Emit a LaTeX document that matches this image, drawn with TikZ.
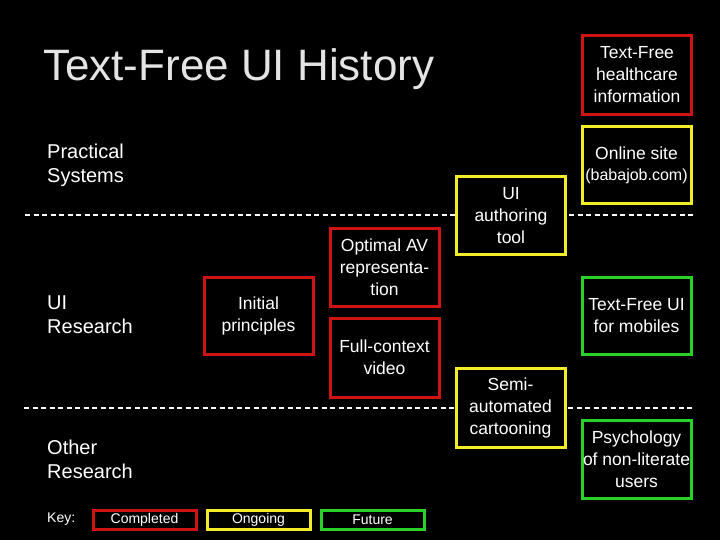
\documentclass[tikz,border=0pt]{standalone}
\usepackage{fontspec}
\setmainfont{Liberation Sans}
\definecolor{cred}{RGB}{208,20,20}
\definecolor{cyel}{RGB}{240,236,40}
\definecolor{cgrn}{RGB}{40,210,40}
\definecolor{ttl}{RGB}{228,228,228}
\begin{document}
\begin{tikzpicture}[x=1pt,y=-1pt,
  box/.style={draw, line width=3pt, fill=black, text=white, align=center, inner sep=0pt,
    minimum width=109pt, minimum height=78pt, font=\fontsize{17.5}{22}\selectfont},
  keybox/.style={draw, line width=3pt, fill=black, text=white, inner sep=0pt,
    minimum width=103pt, minimum height=19pt, font=\fontsize{14}{16}\selectfont},
  lbl/.style={text=white, align=left, anchor=west, inner sep=0pt, font=\fontsize{20}{24}\selectfont},
  sep/.style={white, line width=2pt, dash pattern=on 5pt off 3.5pt}]
\fill[black] (0,0) rectangle (720,540);
\useasboundingbox (0,0) rectangle (720,540);
% title and row labels
\node[text=ttl, anchor=west, inner sep=0pt, font=\fontsize{44}{50}\selectfont] (title) at (43,69) {Text-Free UI History};
\node[lbl] (ps) at (47,165) {Practical\\Systems};
\node[lbl] (ur) at (47,315) {UI\\Research};
\node[lbl] (or) at (47,459) {Other\\Research};
% separators
\coordinate (s1a) at (25,215); \coordinate (s1b) at (693,215);
\coordinate (s2a) at (24,408); \coordinate (s2b) at (693,408);
\draw[sep] (s1a) -- (s1b);
\draw[sep] (s2a) -- (s2b);
% boxes
\node[box, draw=cred, minimum height=79pt] (hc) at (637,75) {Text-Free\\healthcare\\information};
\node[box, draw=cyel, minimum height=77pt] (os) at (636.5,165) {Online site\\[-1pt]{\fontsize{16}{20}\selectfont(babajob.com)}};
\node[box, draw=cyel] (ua) at (511,215.5) {UI\\authoring\\tool};
\node[box, draw=cred] (av) at (384.5,267.5) {Optimal AV\\representa-\\tion};
\node[box, draw=cred, minimum height=77pt] (ip) at (258.5,315.5) {Initial\\principles};
\node[box, draw=cred, minimum height=79pt] (fc) at (384.5,357.5) {Full-context\\video};
\node[box, draw=cgrn, minimum height=77pt] (mb) at (636.5,315.5) {Text-Free UI\\for mobiles};
\node[box, draw=cyel, minimum height=79pt] (sa) at (510.5,407.5) {Semi-\\automated\\cartooning};
\node[box, draw=cgrn] (py) at (636.5,459) {Psychology\\of non-literate\\users};
% key
\node[text=white, anchor=west, inner sep=0pt, font=\fontsize{14}{16}\selectfont] (key) at (47,519.5) {Key:};
\node[keybox, draw=cred] (k1) at (144.5,519.5) {Completed};
\node[keybox, draw=cyel] (k2) at (258.5,519.5) {Ongoing};
\node[keybox, draw=cgrn] (k3) at (372.5,519.5) {Future};
\end{tikzpicture}
\end{document}
